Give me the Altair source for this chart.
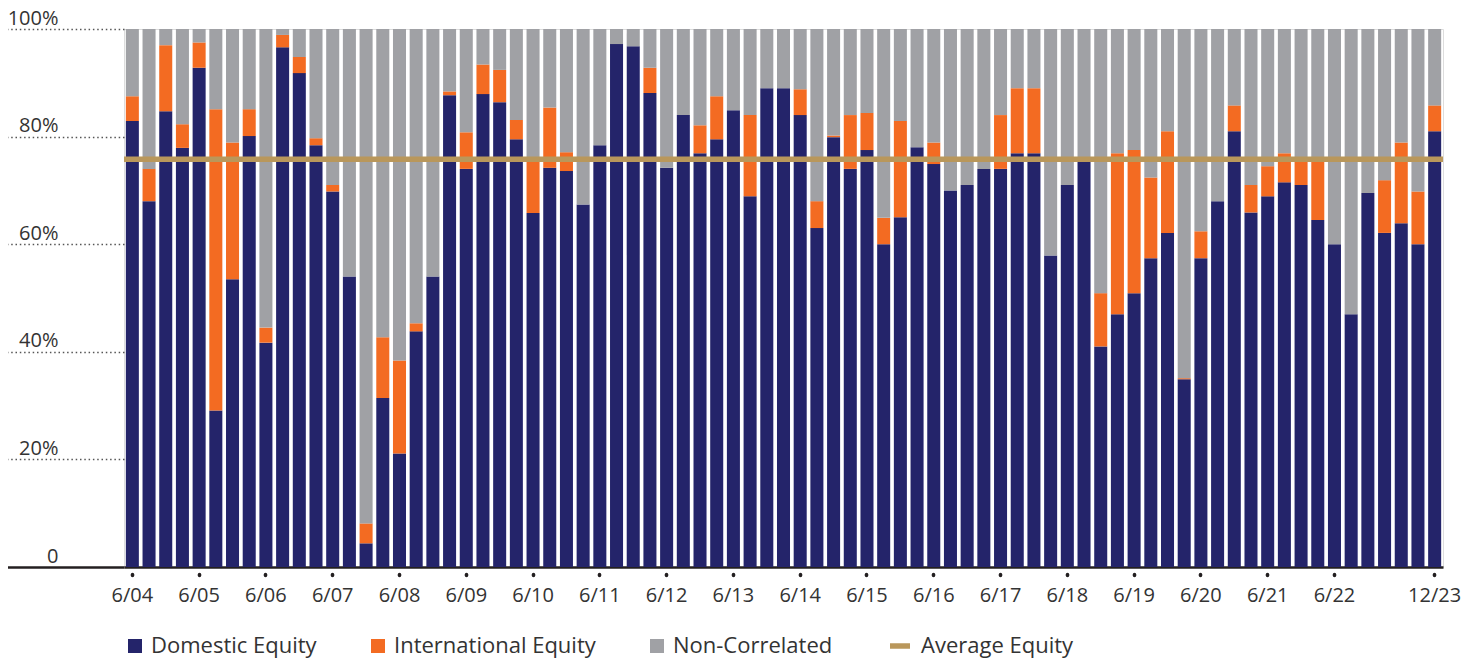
import altair as alt
import pandas as pd

# ---- data (percent of portfolio) ----
domestic = [82.9, 68.0, 84.7, 77.9, 92.8, 29.1, 53.5, 80.1, 41.7, 96.6,
            91.8, 78.4, 69.8, 54.0, 4.4, 31.4, 21.1, 43.8, 54.0, 87.7,
            74.0, 87.9, 86.4, 79.5, 65.8, 74.2, 73.6, 67.4, 78.4, 97.2,
            96.8, 88.1, 74.2, 84.0, 76.9, 79.5, 84.9, 68.9, 89.0, 89.0,
            84.0, 63.0, 79.9, 74.0, 77.5, 60.0, 65.0, 78.0, 74.9, 70.0,
            71.0, 74.0, 74.0, 76.9, 76.9, 57.9, 71.0, 75.5, 41.0, 47.0,
            50.9, 57.4, 62.1, 34.9, 57.4, 68.0, 81.0, 65.9, 68.9, 71.5,
            71.0, 64.5, 60.0, 47.0, 69.5, 62.1, 63.9, 60.0, 81.0]
international = [4.6, 6.0, 12.3, 4.4, 4.7, 56.0, 25.4, 5.0, 2.8, 2.3,
                 3.0, 1.3, 1.2, 0.0, 3.7, 11.3, 17.3, 1.5, 0.0, 0.7,
                 6.8, 5.5, 6.0, 3.6, 9.7, 11.2, 3.5, 0.0, 0.0, 0.0,
                 0.0, 4.7, 0.0, 0.0, 5.2, 8.0, 0.0, 15.1, 0.0, 0.0,
                 4.8, 5.0, 0.3, 10.0, 6.9, 4.9, 17.9, 0.0, 4.0, 0.0,
                 0.0, 0.0, 10.0, 12.1, 12.1, 0.0, 0.0, 0.0, 9.9, 29.9,
                 26.6, 15.0, 18.9, 0.2, 5.0, 0.0, 4.8, 5.1, 5.6, 5.4,
                 4.5, 11.0, 0.0, 0.0, 0.0, 9.8, 15.0, 9.8, 4.8]
average_equity = 75.8

series_names = ["Domestic Equity", "International Equity", "Non-Correlated"]
series_colors = ["#24246A", "#F36B22", "#A0A1A5"]
avg_name = "Average Equity"
avg_color = "#B9975B"

# quarter labels 6/04 ... 12/23
months = [6, 9, 12, 3]
quarters = []
for i in range(len(domestic)):
    m = months[i % 4]
    yr = 4 + (i + 1) // 4
    quarters.append(f"{m}/{yr:02d}")
tick_labels = ["6/04", "6/05", "6/06", "6/07", "6/08", "6/09", "6/10", "6/11",
               "6/12", "6/13", "6/14", "6/15", "6/16", "6/17", "6/18", "6/19",
               "6/20", "6/21", "6/22", "12/23"]

rows = []
for q, d, f in zip(quarters, domestic, international):
    nc = round(100 - d - f, 2)
    for k, (name, v) in enumerate(zip(series_names, [d, f, nc])):
        rows.append({"quarter": q, "series": name, "value": v, "ord": k})
df = pd.DataFrame(rows)
avg_df = pd.DataFrame({"avg": [average_equity], "label": [avg_name]})

FONT = "Open Sans"
TXT = "#333333"
DARK = "#231F20"

y_axis = alt.Axis(
    values=[0, 20, 40, 60, 80, 100],
    labelExpr="datum.value == 0 ? '0' : datum.value + '%'",
    domain=False, grid=False, ticks=True, tickSize=117,
    tickColor={"condition": {"test": "datum.value == 0", "value": DARK}, "value": "#555555"},
    tickWidth={"condition": {"test": "datum.value == 0", "value": 2.5}, "value": 1.5},
    tickDash={"condition": {"test": "datum.value == 0", "value": [400, 1]}, "value": [1.5, 2.8]},
    labelAlign="right", labelBaseline="alphabetic", labelPadding=-51, labelOffset=-5,
    labelFont=FONT, labelFontSize=20, labelColor=TXT, title=None,
)
y_scale = alt.Scale(domain=[0, 100], nice=False)

x_axis = alt.Axis(
    values=tick_labels, labelAngle=0, title=None,
    domain=True, domainColor=DARK, domainWidth=2.5,
    ticks=True, tickSize=10, tickDash=[1, 100], tickDashOffset=-7,
    tickCap="round", tickWidth=3.5, tickColor=DARK,
    labelFont=FONT, labelFontSize=20, labelColor=TXT, labelPadding=8,
)

bars = alt.Chart(df).mark_bar().encode(
    x=alt.X("quarter:O", sort=quarters, axis=x_axis,
            scale=alt.Scale(paddingInner=0.22, paddingOuter=0.11)),
    y=alt.Y("value:Q", stack="zero", scale=y_scale, axis=y_axis),
    fill=alt.Fill("series:N",
                  scale=alt.Scale(domain=series_names, range=series_colors),
                  legend=alt.Legend(
                      title=None, orient="none", direction="horizontal",
                      legendX=0, legendY=606, padding=0,
                      symbolType="square", symbolSize=196, symbolStrokeWidth=0,
                      labelFont=FONT, labelFontSize=22, labelColor=TXT,
                      labelOffset=5, columnPadding=50, labelLimit=400)),
    order=alt.Order("ord:Q"),
)

avg_rule = alt.Chart(avg_df).mark_rule(strokeWidth=5.5).encode(
    y=alt.Y("avg:Q", scale=y_scale, axis=y_axis),
    stroke=alt.Stroke("label:N",
                      scale=alt.Scale(domain=[avg_name], range=[avg_color]),
                      legend=alt.Legend(
                          title=None, orient="none", direction="horizontal",
                          legendX=763, legendY=604, padding=0,
                          symbolType="stroke", symbolSize=400, symbolStrokeWidth=5.5,
                          labelFont=FONT, labelFontSize=22, labelColor=TXT,
                          labelOffset=8, labelLimit=400)),
)

chart = alt.layer(bars, avg_rule).properties(
    width=1319, height=538,
    autosize=alt.AutoSizeParams(type="none"),
    padding={"left": 116, "top": 21, "right": 20, "bottom": 100},
).configure_view(strokeWidth=0).configure(background="white")

chart.save("out.html", embed_options={"renderer": "svg", "actions": False})
